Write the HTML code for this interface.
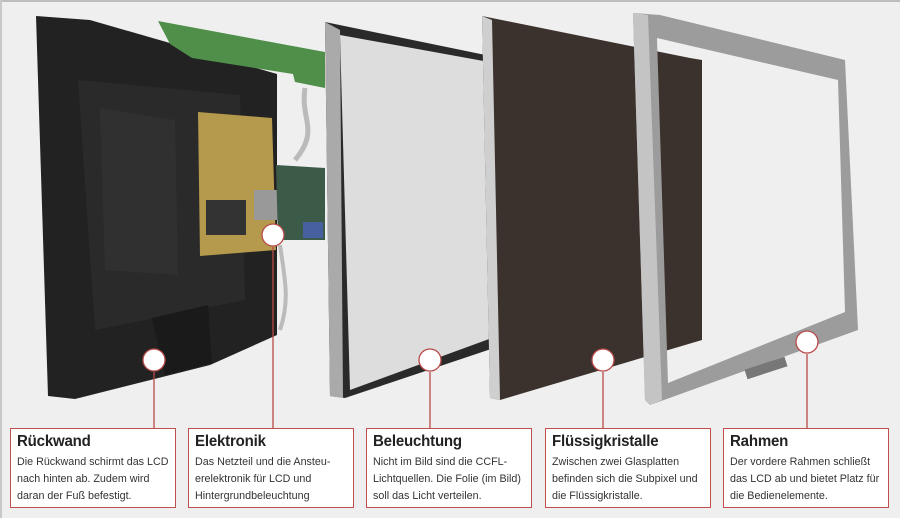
<!DOCTYPE html>
<html><head><meta charset="utf-8"><style>
html,body{margin:0;padding:0}
body{width:900px;height:518px;background:#efefef;position:relative;overflow:hidden;font-family:"Liberation Sans",sans-serif}
.box{position:absolute;top:428px;height:80px;width:166px;background:#fff;border:1px solid #c0504d;box-sizing:border-box;padding:3px 6px}
.box h3{margin:0;font-size:15.5px;font-weight:bold;color:#222;letter-spacing:-0.2px;line-height:20px;transform:scaleX(0.97);transform-origin:left}
.box p{margin:2px 0 0;font-size:11.3px;line-height:17px;color:#333;white-space:nowrap;transform:scaleX(0.95);transform-origin:left}
</style></head><body>
<svg width="900" height="518" style="position:absolute;left:0;top:0">
<rect x="0" y="0" width="900" height="2" fill="#bdbdbd"/>
<rect x="0" y="0" width="2" height="518" fill="#c8c8c8"/>
<!-- back cover -->
<polygon points="36,16 90,20 277,74 277,335 210,365 75,399 48,396" fill="#222"/>
<polygon points="78,80 240,95 245,300 95,330" fill="#2a2a2a"/>
<polygon points="100,108 175,120 178,275 105,270" fill="#303030"/>
<polygon points="152,318 208,305 212,363 165,375" fill="#1a1a1a"/>
<!-- green pcb -->
<polygon points="158,21 325,52 325,88 295,82 293,74 192,58 170,44" fill="#4f8f4a"/>
<!-- cables -->
<path d="M305,88 C300,120 320,130 295,160" stroke="#bbb" stroke-width="5" fill="none"/>
<path d="M280,245 C285,280 290,300 280,330" stroke="#bbb" stroke-width="4" fill="none"/>
<!-- power board -->
<polygon points="198,112 272,118 276,250 200,256" fill="#b59a4d"/>
<rect x="206" y="200" width="40" height="35" fill="#333"/>
<rect x="254" y="190" width="25" height="30" fill="#999"/>
<!-- control board -->
<polygon points="276,165 325,168 325,240 278,240" fill="#3c5a48"/>
<rect x="303" y="222" width="20" height="16" fill="#4660a0"/>
<!-- light panel -->
<polygon points="325,22 500,58 500,346 345,398 330,396" fill="#2a2a2a"/>
<polygon points="340,35 500,64 500,335 350,390" fill="#ddd"/>
<polygon points="325,22 340,30 343,398 330,396" fill="#aaa"/>
<!-- LCD panel -->
<polygon points="482,16 690,58 702,60 702,340 500,400 490,398" fill="#3c322d"/>
<polygon points="482,16 492,20 500,400 490,398" fill="#cfcfcf"/>
<!-- frame -->
<path fill-rule="evenodd" fill="#9c9c9c" d="M633,13 L660,15 L845,60 L858,330 L650,405 L645,400 Z M657,38 L838,80 L845,312 L668,383 Z"/>
<polygon points="633,13 648,15 662,400 650,405 645,400" fill="#c4c4c4"/>
<rect x="745" y="363" width="42" height="10" fill="#777" transform="rotate(-18 766 368)"/>
<!-- connectors -->
<g stroke="#b84a48" stroke-width="1.3" fill="#fff">
<line x1="154" y1="372" x2="154" y2="428"/>
<line x1="273" y1="247" x2="273" y2="428"/>
<line x1="430" y1="372" x2="430" y2="428"/>
<line x1="603" y1="372" x2="603" y2="428"/>
<line x1="807" y1="354" x2="807" y2="428"/>
<circle cx="154" cy="360" r="11"/>
<circle cx="273" cy="235" r="11"/>
<circle cx="430" cy="360" r="11"/>
<circle cx="603" cy="360" r="11"/>
<circle cx="807" cy="342" r="11"/>
</g>
</svg>
<div class="box" style="left:10px"><h3>Rückwand</h3><p>Die Rückwand schirmt das LCD<br>nach hinten ab. Zudem wird<br>daran der Fuß befestigt.</p></div>
<div class="box" style="left:188px"><h3>Elektronik</h3><p>Das Netzteil und die Ansteu-<br>erelektronik für LCD und<br>Hintergrundbeleuchtung</p></div>
<div class="box" style="left:366px"><h3>Beleuchtung</h3><p>Nicht im Bild sind die CCFL-<br>Lichtquellen. Die Folie (im Bild)<br>soll das Licht verteilen.</p></div>
<div class="box" style="left:545px"><h3>Flüssigkristalle</h3><p>Zwischen zwei Glasplatten<br>befinden sich die Subpixel und<br>die Flüssigkristalle.</p></div>
<div class="box" style="left:723px"><h3>Rahmen</h3><p>Der vordere Rahmen schließt<br>das LCD ab und bietet Platz für<br>die Bedienelemente.</p></div>
</body></html>
